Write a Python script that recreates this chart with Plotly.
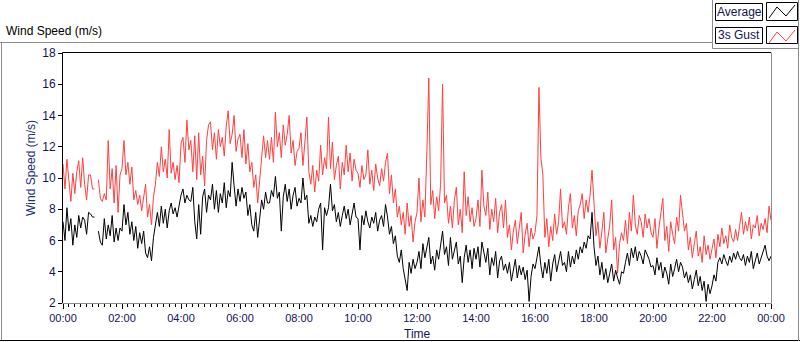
import pandas as pd
import plotly.graph_objects as go

# 4-minute samples, one row per hour
GUST = [
    10.9, 9.3, 11.2, 9.7, 8.5, 10.3, 9.0, 10.4, 11.1, 9.4, 11.3, 9.6, 8.6, 10.2, 10.2,
    9.3, 9.3, None, 9.9, 8.7, 8.5, 9.0, 8.6, 12.4, 9.3, 10.6, 8.4, 10.8, 7.8, 10.2,
    10.6, 12.4, 10.2, 11.0, 9.6, 10.7, 8.6, 9.2, 8.3, 8.9, 7.9, 8.8, 9.6, 7.5, 8.3,
    7.0, 8.8, 9.6, 11.0, 10.1, 12.0, 10.4, 11.2, 10.0, 13.1, 10.3, 11.0, 9.9, 10.8, 9.7,
    12.2, 12.6, 11.0, 13.7, 11.8, 12.4, 10.4, 12.7, 9.9, 12.9, 10.2, 11.4, 9.5, 12.4, 13.4,
    13.6, 11.8, 12.9, 11.2, 13.1, 12.0, 12.6, 11.4, 13.3, 14.3, 12.2, 12.8, 14.0, 11.7, 12.5,
    12.8, 11.3, 13.1, 10.9, 12.2, 10.4, 11.0, 9.4, 10.2, 8.4, 9.8, 11.6, 12.7, 11.3, 12.4,
    11.2, 12.6, 11.0, 14.2, 12.0, 12.9, 11.3, 13.4, 12.1, 12.8, 14.0, 11.6, 12.4, 10.8, 11.7,
    11.9, 12.9, 10.8, 12.3, 13.9, 10.4, 9.6, 10.8, 9.1, 10.5, 9.8, 12.1, 10.2, 11.3, 10.6,
    13.9, 10.6, 12.3, 9.9, 10.8, 11.4, 9.3, 11.0, 10.2, 12.1, 10.4, 11.6, 9.8, 11.2, 10.5,
    10.3, 9.4, 10.8, 9.9, 10.2, 11.8, 9.6, 10.5, 9.2, 10.9, 10.0, 9.5, 10.6, 9.8, 11.0,
    11.6, 9.0, 10.2, 8.4, 9.3, 7.5, 8.2, 7.0, 7.8, 6.4, 8.4, 6.9, 7.6, 5.9, 7.2,
    7.8, 10.0, 7.2, 8.6, 7.5, 11.6, 16.4, 8.3, 9.2, 7.4, 8.8, 7.9, 9.6, 16.0, 8.4,
    8.9, 7.1, 8.2, 6.8, 8.6, 9.4, 7.0, 8.0, 6.5, 10.4, 7.6, 8.8, 7.2, 8.1, 6.9,
    7.4, 8.6, 6.9, 10.5, 8.2, 7.6, 9.1, 6.7, 8.0, 7.2, 8.7, 6.5, 7.8, 8.3, 6.8,
    8.6, 6.2, 7.0, 5.4, 6.6, 7.3, 5.8, 6.9, 7.8, 5.2, 6.4, 7.1, 5.6, 6.8, 6.1,
    6.5, 7.6, 15.8, 11.3, 10.2, 6.2, 7.4, 5.6, 6.9, 6.0, 7.7, 6.4, 7.2, 9.3, 6.8,
    7.2, 6.4, 8.1, 9.0, 6.8, 7.6, 6.3, 7.9, 8.3, 9.0, 7.4, 8.6, 7.8, 8.9, 10.5,
    8.4, 6.3, 7.2, 5.5, 6.6, 7.8, 5.2, 6.0, 7.0, 8.6, 5.4, 6.2, 3.9, 5.8, 6.5,
    6.0, 7.3, 5.8, 7.8, 6.6, 8.9, 7.0, 6.4, 7.6, 7.2, 6.2, 7.7, 6.8, 7.4, 6.5,
    6.2, 7.4, 5.5, 6.8, 7.6, 8.7, 6.0, 6.9, 5.3, 7.2, 6.4, 5.8, 7.5, 6.6, 8.9,
    7.5, 6.6, 7.1, 5.4, 6.2, 4.9, 5.8, 6.6, 5.0, 5.6, 4.6, 6.3, 5.1, 5.7, 4.8,
    5.4, 6.1, 4.9, 6.4, 5.6, 6.8, 5.8, 6.3, 5.5, 7.0, 6.2, 5.9, 6.7, 6.0, 6.9,
    7.8, 6.4, 7.2, 6.6, 7.5, 6.1, 7.0, 6.8, 7.6, 6.3, 7.1, 6.7, 7.4, 6.5, 8.2,
    7.3,
]

AVERAGE = [
    7.2, 6.0, 8.1, 6.6, 7.4, 5.7, 7.0, 6.2, 7.6, 6.8, 7.5, 7.3, 6.4, 7.8, 7.7,
    7.5, 7.5, None, 6.6, 5.9, 5.7, 7.4, 6.1, 7.0, 6.3, 7.6, 5.9, 6.8, 6.0, 6.8,
    6.6, 8.3, 7.0, 7.8, 6.4, 7.2, 6.0, 6.9, 5.5, 6.5, 5.8, 6.6, 5.2, 4.9, 5.6,
    4.7, 6.2, 7.0, 7.8, 6.9, 8.2, 7.1, 8.0, 6.8, 7.9, 8.4, 7.7, 8.1, 7.5, 8.2,
    8.9, 9.3, 8.4, 8.9, 8.6, 8.5, 9.4, 7.2, 6.1, 8.3, 6.4, 8.8, 9.3, 7.8, 8.9,
    8.6, 9.6, 8.0, 9.2, 7.8, 9.0, 8.4, 9.7, 8.1, 9.2, 8.8, 11.0, 9.5, 8.2, 9.3,
    8.5, 9.4, 8.7, 9.1, 7.6, 8.3, 7.0, 6.6, 7.8, 6.2, 7.4, 8.6, 8.0, 9.1, 8.4,
    8.4, 9.2, 8.8, 10.1, 8.7, 9.1, 6.6, 8.8, 9.6, 8.5, 9.3, 8.0, 8.9, 9.4, 8.2,
    8.7, 8.4, 10.0, 8.6, 8.9, 7.1, 7.6, 6.9, 7.5, 7.2, 8.0, 8.4, 5.4, 8.1, 7.6,
    8.1, 9.6, 7.9, 8.3, 7.2, 7.8, 6.9, 7.6, 8.2, 7.4, 8.0, 7.0, 7.7, 8.4, 7.5,
    7.4, 5.4, 7.6, 7.0, 7.9, 7.2, 6.8, 7.5, 7.1, 7.8, 6.6, 7.3, 7.6, 6.9, 8.3,
    7.5, 6.4, 6.9, 5.8, 6.3, 5.0, 4.6, 5.4, 4.2, 3.4, 2.8, 4.6, 3.9, 4.8, 4.2,
    4.6, 5.3, 4.2, 5.8, 4.9, 5.6, 6.2, 4.5, 5.0, 4.1, 5.4, 4.8, 5.9, 6.6, 5.1,
    5.6, 4.4, 6.2, 4.8, 5.3, 5.9, 4.5, 5.0, 3.3, 4.9, 5.7, 4.6, 5.4, 4.2, 5.5,
    4.8, 5.6, 4.3, 5.9, 5.2, 4.6, 5.5, 3.8, 4.9, 4.4, 5.3, 3.6, 4.7, 5.0, 4.1,
    4.5, 3.9, 4.6, 3.4, 4.2, 4.8, 3.6, 4.4, 3.8, 4.3, 3.5, 4.1, 2.1, 3.7, 4.5,
    4.2, 4.9, 5.6, 4.4, 3.6, 4.6, 3.9, 4.8, 3.4, 4.5, 5.1, 4.0, 4.7, 5.3, 4.4,
    4.6, 4.0, 5.3, 4.3, 5.0, 4.5, 5.4, 4.8, 5.6, 5.2, 5.9, 5.5, 6.3, 6.1, 7.8,
    5.6, 4.4, 5.0, 3.8, 4.6, 3.5, 4.2, 3.3, 3.9, 4.5, 3.4, 4.1, 3.6, 3.2, 4.0,
    3.9, 4.6, 5.2, 4.4, 5.5, 4.9, 5.6, 4.7, 5.3, 5.0, 4.5, 5.4, 5.1, 4.8, 4.3,
    4.4, 3.8, 4.9, 4.1, 4.6, 3.6, 4.3, 3.9, 3.2, 4.5, 3.7, 4.2, 4.8, 4.0, 4.6,
    4.3, 3.6, 4.0, 3.3, 3.8, 2.9, 3.5, 4.1, 3.1, 3.7, 2.8, 3.4, 2.1, 3.2, 2.6,
    3.1, 3.8, 3.4, 4.6, 4.9, 4.5, 5.1, 4.7, 4.4, 5.0, 4.6, 5.2, 4.8, 5.3, 4.9,
    4.7, 5.1, 4.4, 5.0, 4.6, 5.3, 4.2, 4.8, 5.2, 4.5, 4.9, 5.4, 5.7, 5.0, 4.7,
    5.0,
]

TIMES = pd.date_range("2000-01-01 00:00", periods=len(GUST), freq="4min")
SERIES_NAMES = ["Average", "3s Gust"]
Y_TICKS = [2, 4, 6, 8, 10, 12, 14, 16, 18]

W, H = 800, 342
L, R, T, B = 63, 29, 53, 39
PW, PH = W - L - R, H - T - B


def px(x):
    return (x - L) / PW


def py(y):
    return (H - B - y) / PH


FONT = "Liberation Sans, Arial, sans-serif"
NAVY = "#141450"
RED = "#FF4040"
GRAY = "#8c8c8c"

fig = go.Figure()
fig.add_trace(go.Scatter(x=TIMES, y=GUST, mode="lines", name=SERIES_NAMES[1],
                         line=dict(color=RED, width=1), connectgaps=False))
fig.add_trace(go.Scatter(x=TIMES, y=AVERAGE, mode="lines", name=SERIES_NAMES[0],
                         line=dict(color="black", width=1), connectgaps=False))

shapes = []


def line(x0, y0, x1, y1, color, width=1):
    shapes.append(dict(type="line", xref="paper", yref="paper",
                       x0=px(x0), y0=py(y0), x1=px(x1), y1=py(y1),
                       line=dict(color=color, width=width), layer="above"))


def rect(x0, y0, x1, y1, color):
    shapes.append(dict(type="rect", xref="paper", yref="paper",
                       x0=px(x0), y0=py(y0), x1=px(x1), y1=py(y1),
                       line=dict(color=color, width=1), fillcolor="rgba(0,0,0,0)",
                       layer="above"))


# outer panel frame
line(0, 42.5, 712.5, 42.5, GRAY)
line(1.5, 42.5, 1.5, 341, GRAY)
line(0, 340.5, 800, 340.5, "black")
line(798.5, 48, 798.5, 341, GRAY)
# legend container
line(712.5, 0, 712.5, 48.5, GRAY)
line(712.5, 48.5, 799, 48.5, GRAY)
line(798.5, 0, 798.5, 48.5, GRAY)
# plot frame: top/left black, bottom/right gray
line(L - 0.5, T - 0.5, L + PW, T - 0.5, "black")
line(L - 0.5, T - 0.5, L - 0.5, H - B, "black")
line(L - 0.5, H - B + 0.5, L + PW + 0.5, H - B + 0.5, GRAY)
line(L + PW + 0.5, T - 0.5, L + PW + 0.5, H - B + 0.5, GRAY)

# legend boxes
rect(715.5, 3.5, 762.5, 20.5, "black")
rect(766.5, 2.5, 797.5, 20.5, "black")
rect(715.5, 27.5, 762.5, 43.5, "black")
rect(766.5, 26.5, 797.5, 43.5, "black")


def zig(y_off, color):
    pts = [(769, 18), (777, 7), (786, 16), (795, 5)]
    path = "M " + " L ".join(f"{px(a)},{py(b + y_off)}" for a, b in pts)
    shapes.append(dict(type="path", xref="paper", yref="paper", path=path,
                       line=dict(color=color, width=1), layer="above"))


zig(0, "black")
zig(25, RED)

annotations = [
    dict(text="Wind Speed (m/s)", x=px(4), y=py(31), xref="paper", yref="paper",
         xanchor="left", yanchor="middle", showarrow=False,
         font=dict(family=FONT, size=12, color="black")),
    dict(text=SERIES_NAMES[0], x=px(739), y=py(12), xref="paper", yref="paper",
         xanchor="center", yanchor="middle", showarrow=False,
         font=dict(family=FONT, size=12, color=NAVY)),
    dict(text=SERIES_NAMES[1], x=px(739), y=py(35.5), xref="paper", yref="paper",
         xanchor="center", yanchor="middle", showarrow=False,
         font=dict(family=FONT, size=12, color=NAVY)),
    dict(text="Wind Speed (m/s)", x=px(31), y=py(168), xref="paper", yref="paper",
         xanchor="center", yanchor="middle", textangle=-90, showarrow=False,
         font=dict(family=FONT, size=12, color="#1f2f70")),
    dict(text="Time", x=px(418), y=py(334), xref="paper", yref="paper",
         xanchor="center", yanchor="middle", showarrow=False,
         font=dict(family=FONT, size=12, color=NAVY)),
]

fig.update_layout(
    width=W, height=H,
    margin=dict(l=L, r=R, t=T, b=B, pad=0),
    paper_bgcolor="white", plot_bgcolor="white",
    showlegend=False,
    shapes=shapes, annotations=annotations,
    xaxis=dict(
        range=["2000-01-01 00:00", "2000-01-02 00:00"],
        type="date", tickformat="%H:%M", dtick=2 * 3600 * 1000,
        tick0="2000-01-01 00:00",
        ticks="outside", ticklen=5, tickwidth=1, tickcolor="black",
        minor=dict(dtick=12 * 60 * 1000, ticks="outside", ticklen=3,
                   tickcolor="black", showgrid=False),
        showgrid=False, zeroline=False, showline=False,
        tickfont=dict(family=FONT, size=11, color=NAVY),
    ),
    yaxis=dict(
        range=[2, 18], tickvals=Y_TICKS,
        ticks="outside", ticklen=4, tickwidth=1, tickcolor="black",
        showgrid=False, zeroline=False, showline=False,
        tickfont=dict(family=FONT, size=12, color=NAVY),
    ),
)

fig.write_html(
    "out.html",
    config={"displayModeBar": False},
    post_script="document.body.style.margin='0';document.body.style.overflow='hidden';",
)
